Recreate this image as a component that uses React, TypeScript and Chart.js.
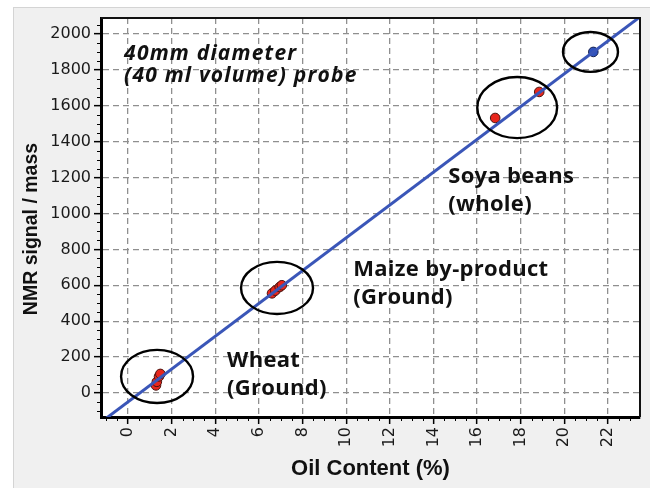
import React, { useEffect, useRef } from "react";
import { Chart, registerables } from "chart.js";

Chart.register(...registerables);

// ---- Data ----
const xTickValues = [0, 2, 4, 6, 8, 10, 12, 14, 16, 18, 20, 22];
const yTickValues = [0, 200, 400, 600, 800, 1000, 1200, 1400, 1600, 1800, 2000];

const redOilX = [1.28, 1.32, 1.42, 1.48, 6.6, 6.75, 6.95, 7.05, 16.83, 18.85];
const redSignalY = [42, 62, 92, 106, 555, 570, 590, 600, 1532, 1677];

const blueOilX = [21.33];
const blueSignalY = [1900];

const fitOilX = [-1.0, 23.5];
const fitSignalY = [-141, 2098];

// Group ellipses (centre and radii in data units)
const groupCx = [1.33, 6.83, 17.84, 21.2];
const groupCy = [92, 585, 1590, 1900];
const groupRx = [1.65, 1.65, 1.83, 1.26];
const groupRy = [148, 145, 170, 111];

// Annotation texts
const noteLines = [
  ["40mm diameter", "(40 ml volume) probe"],
  ["Soya beans", "(whole)"],
  ["Maize by-product", "(Ground)"],
  ["Wheat", "(Ground)"],
];
const noteAtX = [-0.18, 14.68, 10.32, 4.54];
const noteAtY = [1855, 1170, 652, 145];

const X_MIN = -1.24;
const X_MAX = 23.47;
const Y_MIN = -134;
const Y_MAX = 2089;

export default function App() {
  const ref = useRef<HTMLCanvasElement>(null);

  useEffect(() => {
    const canvas = ref.current;
    if (!canvas) return;

    const decorPlugin = {
      id: "decor",
      beforeDraw(chart: any) {
        const { ctx, chartArea: a } = chart;
        ctx.save();
        ctx.fillStyle = "#ffffff";
        ctx.fillRect(a.left, a.top, a.right - a.left, a.bottom - a.top);
        ctx.restore();
      },
      afterDatasetsDraw(chart: any) {
        const { ctx, chartArea: a } = chart;
        const xs = chart.scales.x;
        const ys = chart.scales.y;
        // ellipses
        ctx.save();
        ctx.beginPath();
        ctx.rect(a.left, a.top, a.right - a.left, a.bottom - a.top);
        ctx.clip();
        ctx.strokeStyle = "#000";
        ctx.lineWidth = 2.4;
        for (let i = 0; i < groupCx.length; i++) {
          const cx = xs.getPixelForValue(groupCx[i]);
          const cy = ys.getPixelForValue(groupCy[i]);
          const rx = Math.abs(xs.getPixelForValue(groupCx[i] + groupRx[i]) - cx);
          const ry = Math.abs(ys.getPixelForValue(groupCy[i] + groupRy[i]) - cy);
          ctx.beginPath();
          ctx.ellipse(cx, cy, rx, ry, 0, 0, Math.PI * 2);
          ctx.stroke();
        }
        ctx.restore();

        // notes
        ctx.save();
        ctx.fillStyle = "#111";
        ctx.textAlign = "left";
        ctx.textBaseline = "alphabetic";
        for (let i = 0; i < noteLines.length; i++) {
          const px = xs.getPixelForValue(noteAtX[i]);
          const py = ys.getPixelForValue(noteAtY[i]);
          const first = i === 0;
          ctx.font = first
            ? "italic bold 21px 'Open Sans'"
            : "bold 22px 'Open Sans'";
          (ctx as any).letterSpacing = first ? "1.2px" : "0.3px";
          const lh = first ? 22 : 28;
          noteLines[i].forEach((t, j) => ctx.fillText(t, px, py + j * lh));
        }
        (ctx as any).letterSpacing = "0px";
        ctx.restore();
      },
      afterDraw(chart: any) {
        const { ctx, chartArea: a } = chart;
        const xs = chart.scales.x;
        const ys = chart.scales.y;
        ctx.save();
        // frame top & right
        ctx.strokeStyle = "#111";
        ctx.lineWidth = 2;
        ctx.beginPath();
        ctx.moveTo(a.left, a.top);
        ctx.lineTo(a.right, a.top);
        ctx.lineTo(a.right, a.bottom);
        ctx.stroke();
        // minor ticks
        ctx.strokeStyle = "#000";
        ctx.lineWidth = 1;
        for (let v = -1; v <= X_MAX; v += 0.5) {
          if (Math.abs(v % 2) < 1e-6) continue;
          const px = Math.round(xs.getPixelForValue(v)) + 0.5;
          ctx.beginPath();
          ctx.moveTo(px, a.bottom);
          ctx.lineTo(px, a.bottom + 4);
          ctx.stroke();
        }
        for (let v = -100; v <= Y_MAX; v += 50) {
          if (Math.abs(v % 200) < 1e-6) continue;
          const py = Math.round(ys.getPixelForValue(v)) + 0.5;
          ctx.beginPath();
          ctx.moveTo(a.left, py);
          ctx.lineTo(a.left - 4, py);
          ctx.stroke();
        }
        // y title
        ctx.translate(32, 229);
        ctx.rotate(-Math.PI / 2);
        ctx.font = "bold 19.5px 'Liberation Sans'";
        ctx.fillStyle = "#111";
        ctx.textAlign = "center";
        ctx.textBaseline = "middle";
        ctx.fillText("NMR signal / mass", 0, 0);
        ctx.restore();
      },
    };

    const gridCommon = {
      color: "#8f8f8f",
      lineWidth: 1.3,
      drawTicks: true,
      tickLength: 7,
      tickColor: "#000",
      tickWidth: 1.5,
    };
    const borderCommon = {
      display: true,
      color: "#000",
      width: 3,
      dash: [6, 4],
    };
    const tickFont = { family: "'DejaVu Sans'", size: 16 };
    const plainLabel = (v: any) => String(v);

    const chart = new Chart(canvas, {
      type: "scatter",
      data: {
        datasets: [
          {
            type: "line",
            data: fitOilX.map((x, i) => ({ x, y: fitSignalY[i] })),
            borderColor: "#3a56b8",
            borderWidth: 3,
            pointRadius: 0,
            fill: false,
            order: 0,
          } as any,
          {
            data: redOilX.map((x, i) => ({ x, y: redSignalY[i] })),
            backgroundColor: "#e8261c",
            borderColor: "#4a1410",
            borderWidth: 1,
            pointRadius: 4.8,
            order: 1,
          },
          {
            data: blueOilX.map((x, i) => ({ x, y: blueSignalY[i] })),
            backgroundColor: "#2f52bd",
            borderColor: "#1a2450",
            borderWidth: 1,
            pointRadius: 4.8,
            order: 1,
          },
        ],
      },
      options: {
        animation: false,
        responsive: false,
        devicePixelRatio: 1,
        layout: { padding: { left: 0, top: 18, right: 10, bottom: 0 } },
        plugins: {
          legend: { display: false },
          tooltip: { enabled: false },
        },
        scales: {
          x: {
            type: "linear",
            min: X_MIN,
            max: X_MAX,
            afterBuildTicks: (s: any) => {
              s.ticks = xTickValues.map((v) => ({ value: v }));
            },
            afterFit: (s: any) => {
              s.height = 71;
            },
            ticks: {
              autoSkip: false,
              minRotation: 90,
              maxRotation: 90,
              padding: 3,
              color: "#1a1a1a",
              font: tickFont,
              callback: plainLabel,
            },
            grid: gridCommon,
            border: borderCommon,
            title: {
              display: true,
              text: "Oil Content (%)",
              color: "#111",
              font: { family: "'Liberation Sans'", size: 22, weight: "bold" },
              padding: { top: 0, bottom: 6 },
            },
          },
          y: {
            type: "linear",
            min: Y_MIN,
            max: Y_MAX,
            afterBuildTicks: (s: any) => {
              s.ticks = yTickValues.map((v) => ({ value: v }));
            },
            afterFit: (s: any) => {
              s.width = 101;
            },
            ticks: {
              autoSkip: false,
              padding: 3,
              color: "#1a1a1a",
              font: tickFont,
              callback: plainLabel,
            },
            grid: gridCommon,
            border: borderCommon,
          },
        },
      } as any,
      plugins: [decorPlugin],
    });

    return () => chart.destroy();
  }, []);

  return (
    <div
      style={{
        position: "absolute",
        left: 0,
        top: 0,
        width: 650,
        height: 488,
        background: "#ffffff",
        overflow: "hidden",
      }}
    >
      <div
        style={{
          position: "absolute",
          left: 13,
          top: 7,
          width: 650,
          height: 500,
          background: "#f0f0f0",
          border: "1px solid #d4d4d4",
          boxSizing: "border-box",
        }}
      />
      <canvas
        ref={ref}
        width={650}
        height={488}
        style={{ position: "absolute", left: 0, top: 0, width: 650, height: 488 }}
      />
    </div>
  );
}
